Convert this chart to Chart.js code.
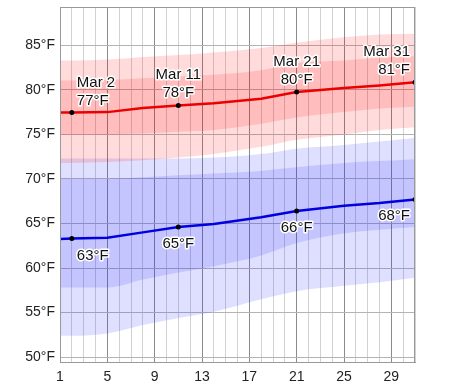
<!DOCTYPE html>
<html>
<head>
<meta charset="utf-8">
<script src="https://cdn.jsdelivr.net/npm/chart.js@4/dist/chart.umd.min.js"></script>
<style>
  html, body { margin: 0; padding: 0; background: #fff; }
  .chart-container { width: 474px; height: 389px; }
</style>
</head>
<body>
<div class="chart-container"><canvas id="myChart"></canvas></div>
<script>
const days = [1, 2, 5, 8, 11, 14, 18, 21, 25, 28, 31];

// daily high: average, 25-75 and 10-90 percentile bands
const highAvg = [77.45, 77.45, 77.5, 77.95, 78.25, 78.5, 79.0, 79.75, 80.2, 80.5, 80.85];
const highP75 = [81.05, 81.05, 81.1, 81.3, 81.5, 81.7, 82.2, 83.0, 83.3, 83.6, 83.8];
const highP25 = [75.0, 75.0, 75.0, 75.1, 75.3, 75.5, 76.2, 76.9, 77.5, 77.9, 78.1];
const highP90 = [83.3, 83.3, 83.4, 83.7, 83.9, 84.2, 84.7, 85.3, 85.9, 86.2, 86.3];
const highP10 = [71.8, 71.8, 71.9, 72.1, 72.4, 72.8, 73.6, 74.4, 75.0, 75.5, 75.8];

// daily low
const lowAvg = [63.25, 63.3, 63.4, 64.0, 64.6, 64.95, 65.7, 66.4, 67.0, 67.3, 67.7];
const lowP75 = [70.0, 70.0, 70.0, 70.2, 70.4, 70.6, 70.9, 71.3, 71.8, 72.0, 72.2];
const lowP25 = [57.8, 57.8, 57.8, 58.7, 59.5, 60.2, 61.4, 62.8, 63.9, 64.3, 64.6];
const lowP90 = [72.3, 72.3, 72.3, 72.3, 72.3, 72.4, 72.8, 73.4, 73.8, 74.2, 74.6];
const lowP10 = [52.4, 52.4, 52.65, 53.6, 54.4, 55.1, 56.5, 57.4, 58.0, 58.4, 58.9];

// marked days and their labels
const markerDays = [2, 11, 21, 31];
const markerNames = ['Mar 2', 'Mar 11', 'Mar 21', 'Mar 31'];
const highLabels = ['77°F', '78°F', '80°F', '81°F'];
const lowLabels = ['63°F', '65°F', '66°F', '68°F'];

const yTicks = [50, 55, 60, 65, 70, 75, 80, 85];

const toPoints = (values) => days.map((d, i) => ({ x: d, y: values[i] }));

const band = (values, color, target) => ({
    data: toPoints(values),
    borderWidth: 0,
    pointRadius: 0,
    backgroundColor: color,
    fill: target === undefined ? false : target,
    cubicInterpolationMode: 'monotone'
});

const line = (values, color) => ({
    data: toPoints(values),
    borderColor: color,
    borderWidth: 2.5,
    fill: false,
    tension: 0,
    pointRadius: (ctx) => markerDays.includes(ctx.raw.x) ? 2.5 : 0,
    pointBackgroundColor: '#000',
    pointBorderWidth: 0
});

const pinkFill = 'rgba(255, 0, 0, 0.14)';
const blueFill = 'rgba(40, 40, 255, 0.15)';

// index 0 is drawn on top, so lines go first
const datasets = [
    line(highAvg, 'rgb(235, 0, 0)'),
    line(lowAvg, 'rgb(0, 0, 225)'),
    band(highP75, pinkFill, 3),
    band(highP25, pinkFill),
    band(highP90, pinkFill, 5),
    band(highP10, pinkFill),
    band(lowP75, blueFill, 7),
    band(lowP25, blueFill),
    band(lowP90, blueFill, 9),
    band(lowP10, blueFill)
];

// box around plot + text labels with white halo
const labelsPlugin = {
    id: 'labels',
    afterDraw(chart) {
        const ctx = chart.ctx;
        const x = chart.scales.x;
        const y = chart.scales.y;
        const area = chart.chartArea;

        ctx.save();
        ctx.strokeStyle = '#999';
        ctx.lineWidth = 1;
        ctx.strokeRect(area.left + 0.5, area.top + 0.5, area.right - area.left - 1, area.bottom - area.top);

        ctx.font = '15px "Liberation Sans", Arial, sans-serif';
        ctx.textBaseline = 'alphabetic';
        ctx.lineJoin = 'round';
        ctx.lineWidth = 3;
        ctx.strokeStyle = '#fff';
        ctx.fillStyle = '#111';

        const text = (str, px, py, align) => {
            ctx.textAlign = align;
            ctx.strokeText(str, px, py);
            ctx.fillText(str, px, py);
        };

        markerDays.forEach((day, i) => {
            let px = x.getPixelForValue(day);
            let align = 'center';
            if (i === 0) { px += 5; align = 'left'; }
            if (i === markerDays.length - 1) { px -= 5; align = 'right'; }

            const hy = y.getPixelForValue(highAvg[days.indexOf(day)]);
            text(markerNames[i], px, hy - 26, align);
            text(highLabels[i], px, hy - 8, align);

            const ly = y.getPixelForValue(lowAvg[days.indexOf(day)]);
            text(lowLabels[i], px, ly + 21, align);
        });
        ctx.restore();
    }
};

const config = {
    type: 'line',
    data: { datasets: datasets },
    options: {
        responsive: false,
        animation: false,
        layout: { padding: { top: 7, right: 59, left: 0, bottom: 0 } },
        plugins: {
            legend: { display: false },
            tooltip: { enabled: false }
        },
        scales: {
            x: {
                type: 'linear',
                min: 1,
                max: 31,
                afterFit: (scale) => {
                    scale.height = 27;
                    scale.paddingLeft = 0;
                    scale.paddingRight = 0;
                },
                ticks: {
                    stepSize: 1,
                    autoSkip: false,
                    maxRotation: 0,
                    padding: 7,
                    color: '#222',
                    font: { family: '"Liberation Sans", Arial, sans-serif', size: 14 },
                    callback: (v) => (v - 1) % 4 === 0 ? v : ''
                },
                grid: {
                    drawTicks: false,
                    color: (ctx) => (ctx.tick && (ctx.tick.value - 1) % 4 === 0) ? '#8a8a8a' : '#d2d2d2'
                },
                border: { color: '#999' }
            },
            y: {
                min: 49.45,
                max: 89.3,
                afterFit: (scale) => {
                    scale.width = 60;
                    scale.paddingTop = 0;
                    scale.paddingBottom = 0;
                },
                afterBuildTicks: (scale) => { scale.ticks = yTicks.map(v => ({ value: v })); },
                ticks: {
                    padding: 5,
                    color: '#222',
                    font: { family: '"Liberation Sans", Arial, sans-serif', size: 14 },
                    callback: (v) => v + '°F'
                },
                grid: { drawTicks: false, color: '#b4b4b4' },
                border: { color: '#999' }
            }
        }
    },
    plugins: [labelsPlugin]
};

const canvas = document.getElementById('myChart');
canvas.width = 474;
canvas.height = 389;
const myChart = new Chart(canvas, config);
</script>
</body>
</html>
